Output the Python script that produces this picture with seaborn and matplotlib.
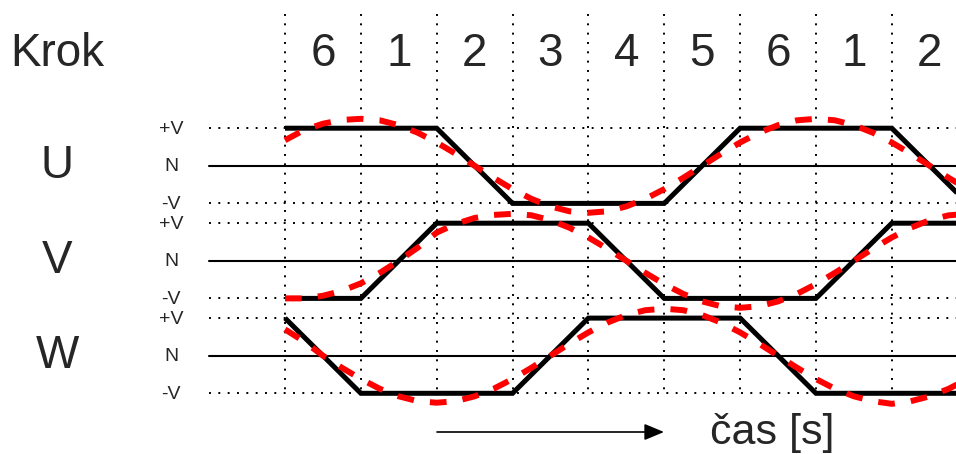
import numpy as np
import pandas as pd
import matplotlib
matplotlib.use("Agg")
import matplotlib.pyplot as plt
import seaborn as sns

# ---- data -------------------------------------------------------------
step_labels = ["6", "1", "2", "3", "4", "5", "6", "1", "2"]
phase_names = ["U", "V", "W"]
level_names = ["+V", "N", "-V"]
level_values = [1, 0, -1]

# trapezoidal (six-step) phase voltages: corner times in steps and levels
u_trap_t = [0, 2, 3, 5, 6, 8, 9]
u_trap_v = [1, 1, -1, -1, 1, 1, -1]
v_trap_t = [0, 1, 2, 4, 5, 7, 8, 9]
v_trap_v = [-1, -1, 1, 1, -1, -1, 1, 1]
w_trap_t = [0, 1, 3, 4, 6, 7, 9]
w_trap_v = [1, -1, -1, 1, 1, -1, -1]

# sinusoidal reference, sampled every quarter step
sine_t = [0, 0.25, 0.5, 0.75, 1, 1.25, 1.5, 1.75, 2, 2.25, 2.5, 2.75, 3,
          3.25, 3.5, 3.75, 4, 4.25, 4.5, 4.75, 5, 5.25, 5.5, 5.75, 6,
          6.25, 6.5, 6.75, 7, 7.25, 7.5, 7.75, 8, 8.25, 8.5, 8.75, 9]
u_sine = [0.68, 0.95, 1.12, 1.22, 1.25, 1.21, 1.08, 0.88, 0.62, 0.32, 0,
          -0.32, -0.62, -0.88, -1.08, -1.21, -1.25, -1.21, -1.08, -0.88,
          -0.62, -0.32, 0, 0.32, 0.62, 0.88, 1.08, 1.21, 1.25, 1.21, 1.08,
          0.88, 0.62, 0.32, 0, -0.32, -0.62]
v_sine = [-1.0, -1.0, -0.93, -0.8, -0.6, -0.32, 0, 0.35, 0.75, 0.98, 1.14,
          1.22, 1.25, 1.21, 1.08, 0.88, 0.62, 0.32, 0, -0.32, -0.62, -0.88,
          -1.08, -1.21, -1.25, -1.21, -1.08, -0.88, -0.62, -0.32, 0, 0.32,
          0.62, 0.88, 1.08, 1.21, 1.25]
w_sine = [0.7, 0.38, 0, -0.32, -0.62, -0.88, -1.08, -1.21, -1.25, -1.21,
          -1.08, -0.88, -0.62, -0.32, 0, 0.32, 0.62, 0.88, 1.08, 1.21, 1.25,
          1.21, 1.08, 0.88, 0.62, 0.32, 0, -0.32, -0.62, -0.88, -1.08, -1.21,
          -1.28, -1.21, -1.08, -0.88, -0.62]

time_label = "čas [s]"
step_title = "Krok"

# ---- layout (pixel geometry of the canvas) ----------------------------
W_PX, H_PX = 956, 454
X0, STEP = 285.0, 75.85          # first step boundary, pixels per step
AMP = 37.6                       # pixels per voltage level
CENTERS = [165.8, 260.8, 355.7]  # N line of each phase


def tx(px):
    return (px - X0) / STEP


def ty(py):
    return (CENTERS[0] - py) / AMP


offsets = [ty(c) for c in CENTERS]

sns.set_style("white")
plt.rcParams["font.family"] = ["Liberation Sans", "DejaVu Sans"]

fig = plt.figure(figsize=(W_PX / 100, H_PX / 100), dpi=100)
ax = fig.add_axes([0, 0, 1, 1])

dot = (0, (1, 3.8))

# step boundaries
for k in range(len(step_labels)):
    ax.plot([k, k], [ty(14), ty(393)], color="black", lw=1.4,
            linestyle=dot, zorder=1)

# level guides
for off in offsets:
    for lv in (1, -1):
        ax.plot([tx(209), tx(W_PX)], [off + lv, off + lv], color="black",
                lw=1.4, linestyle=dot, zorder=1)
    ax.plot([tx(209), tx(W_PX)], [off, off], color="black", lw=1.5,
            zorder=1)

# long-form tables for seaborn
trap = pd.concat([
    pd.DataFrame({"t": t, "level": v, "phase": p})
    for p, t, v in zip(phase_names,
                       [u_trap_t, v_trap_t, w_trap_t],
                       [u_trap_v, v_trap_v, w_trap_v])
], ignore_index=True)
sine = pd.concat([
    pd.DataFrame({"t": sine_t, "level": v, "phase": p})
    for p, v in zip(phase_names, [u_sine, v_sine, w_sine])
], ignore_index=True)
off_map = dict(zip(phase_names, offsets))
trap["y"] = trap["level"] + trap["phase"].map(off_map)
sine["y"] = sine["level"] + sine["phase"].map(off_map)

sns.lineplot(data=trap, x="t", y="y", units="phase", estimator=None,
             sort=False, color="black", lw=3.6, ax=ax, zorder=3,
             solid_joinstyle="miter", solid_capstyle="butt")
sns.lineplot(data=sine, x="t", y="y", units="phase", estimator=None,
             sort=False, color="#ff0000", lw=4.3, ax=ax, zorder=4,
             linestyle=(0, (2.8, 2.7)))

ax.set_xlim(tx(0), tx(W_PX))
ax.set_ylim(ty(H_PX), ty(0))
ax.axis("off")

# texts
big = 33
ax.text(tx(10), ty(54), step_title, fontsize=big, ha="left", va="center")
for k, s in enumerate(step_labels):
    ax.text(k + 0.5, ty(54), s, fontsize=big, ha="center", va="center")
for p, off in zip(phase_names, offsets):
    ax.text(tx(57), off, p, fontsize=big, ha="center", va="center")
    for name, lv in zip(level_names, level_values):
        ax.text(tx(171), off + lv - 0.03, name, fontsize=14,
                ha="center", va="center")

ax.annotate("", xy=(tx(664), ty(432)), xytext=(tx(437), ty(432)),
            arrowprops=dict(arrowstyle="-|>,head_length=0.6,head_width=0.25",
                            color="black", lw=1.2, mutation_scale=20,
                            shrinkA=0, shrinkB=0))
ax.text(tx(710), ty(444), time_label, fontsize=31, ha="left",
        va="baseline")

fig.savefig("out.png", dpi=100)
